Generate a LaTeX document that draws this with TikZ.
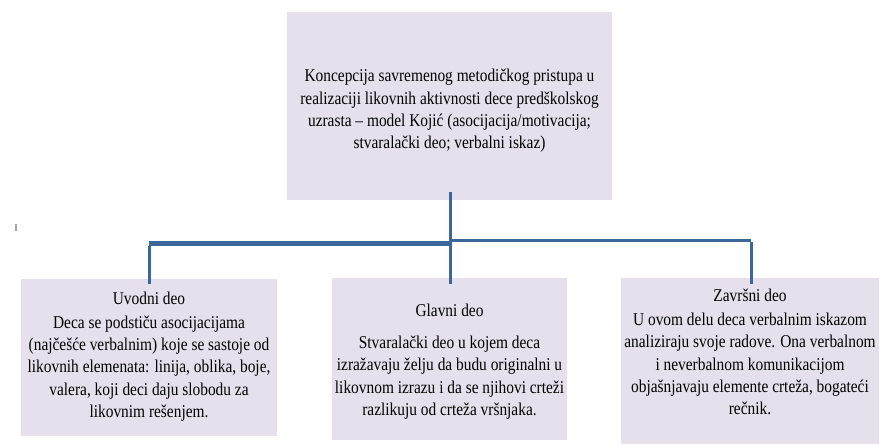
\documentclass[tikz,border=0pt]{standalone}
\usepackage{fontspec}
\setmainfont[FakeStretch=0.855]{Liberation Serif}
\definecolor{boxfill}{HTML}{E5E0EC}
\definecolor{linkblue}{HTML}{3C679B}
\begin{document}
\begin{tikzpicture}[x=1pt,y=-1pt,
  box/.style={rectangle,fill=boxfill,draw=none,inner sep=0pt},
  txt/.style={align=center,inner sep=0pt,font=\fontsize{18}{22.4}\selectfont},
  link/.style={draw=linkblue,line width=3pt}]
\useasboundingbox[fill=white] (0,0) rectangle (882,444);
% boxes
\node[box,minimum width=325pt,minimum height=188pt] (top) at (449.5,106) {};
\node[box,minimum width=256pt,minimum height=157pt] (left) at (149,357.5) {};
\node[box,minimum width=235pt,minimum height=162pt] (mid) at (449.5,359) {};
\node[box,minimum width=258pt,minimum height=166pt] (right) at (750,361) {};
% texts
\node[txt] (toptxt) at (449.5,111) {Koncepcija savremenog metodičkog pristupa u\\realizaciji likovnih aktivnosti dece predškolskog\\uzrasta -- model Kojić (asocijacija/motivacija;\\stvaralački deo; verbalni iskaz)};
\node[txt] (lefttitle) at (149,298) {Uvodni deo};
\node[txt] (leftbody) at (149,368.5) {Deca se podstiču asocijacijama\\(najčešće verbalnim) koje se sastoje od\\likovnih elemenata: linija, oblika, boje,\\valera, koji deci daju slobodu za\\likovnim rešenjem.};
\node[txt] (midtitle) at (449.5,310) {Glavni deo};
\node[txt] (midbody) at (449.5,377.5) {Stvaralački deo u kojem deca\\izražavaju želju da budu originalni u\\likovnom izrazu i da se njihovi crteži\\razlikuju od crteža vršnjaka.};
\node[txt] (righttitle) at (750,295) {Završni deo};
\node[txt] (rightbody) at (750,364) {U ovom delu deca verbalnim iskazom\\analiziraju svoje radove. Ona verbalnom\\i neverbalnom komunikacijom\\objašnjavaju elemente crteža, bogateći\\rečnik.};
% connectors
\coordinate (jc) at (450,241.5);
\coordinate (jl) at (149,243.5);
\coordinate (jr) at (751,240.5);
\draw[link,line width=3pt] ([yshift=8pt]top.south -| jc) -- ([yshift=-6pt]mid.north -| jc);
\draw[link,line width=5pt] (jl -| jc) -- (jl);
\draw[link,line width=3.5pt] (jr -| jc) -- (jr);
\draw[link,line width=3pt] ([yshift=-2pt]jl) -- ([yshift=-5pt]left.north -| jl);
\draw[link,line width=3pt] ([yshift=-1pt]jr) -- ([yshift=-6pt]right.north -| jr);
% small mark
\fill[gray!70] (15,224) rectangle (17,231);
\end{tikzpicture}
\end{document}
